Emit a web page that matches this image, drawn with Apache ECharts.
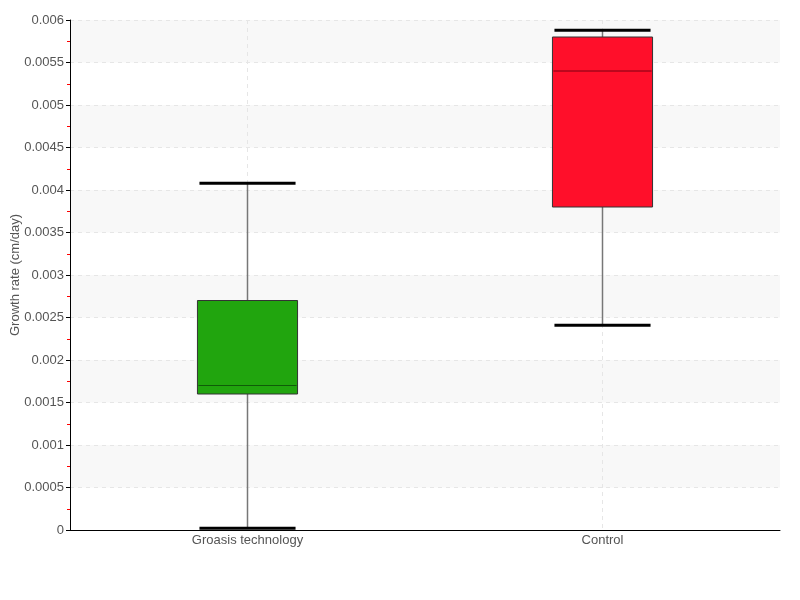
<!DOCTYPE html>
<html><head><meta charset="utf-8">
<script src="https://cdn.jsdelivr.net/npm/echarts@6/dist/echarts.min.js"></script>
<style>html,body{margin:0;padding:0;background:#fff}#c{width:800px;height:600px}</style>
</head><body><div id="c"></div>
<script>
const categories = ['Groasis technology', 'Control'];
const mins    = [0.00002, 0.00241];
const q1s     = [0.0016, 0.0038];
const medians = [0.0017, 0.0054];
const q3s     = [0.0027, 0.0058];
const maxs    = [0.00408, 0.00588];
const boxColors = ['#21a50e', '#ff0f2a'];
const medianColors = ['#0f5c08', '#7a0010'];
const yTicks = [0, 0.0005, 0.001, 0.0015, 0.002, 0.0025, 0.003, 0.0035, 0.004, 0.0045, 0.005, 0.0055, 0.006];

const data = categories.map((c, i) => [i, mins[i], q1s[i], medians[i], q3s[i], maxs[i]]);
const FONT = '"Liberation Sans", Arial, sans-serif';

const chart = echarts.init(document.getElementById('c'));
chart.setOption({
  animation: false,
  grid: { left: 70, right: 20, top: 20, bottom: 70, containLabel: false, outerBoundsMode: 'none' },
  xAxis: {
    type: 'category', data: categories, boundaryGap: true,
    axisLine: { lineStyle: { color: '#000', width: 1 } },
    axisTick: { show: false },
    axisLabel: { color: '#555', fontSize: 13, fontFamily: FONT, margin: 4 },
    splitLine: { show: true, alignWithLabel: true, lineStyle: { color: '#e6e6e6', type: [4, 4] } }
  },
  yAxis: {
    type: 'value', min: 0, max: 0.006, interval: 0.0005,
    name: 'Growth rate (cm/day)', nameLocation: 'middle', nameGap: 48, nameMoveOverlap: false,
    nameTextStyle: { color: '#555', fontSize: 13, fontFamily: FONT },
    axisLine: { show: true, lineStyle: { color: '#000', width: 1 } },
    axisTick: { show: true, length: 4, lineStyle: { color: '#000' } },
    minorTick: { show: true, splitNumber: 2, length: 3, lineStyle: { color: '#ff0000', width: 1 } },
    axisLabel: { color: '#555', fontSize: 13, fontFamily: FONT, margin: 6,
      formatter: v => { const t = yTicks.find(x => Math.abs(x - v) < 1e-9); return String(t !== undefined ? t : v); } },
    splitLine: { show: true, lineStyle: { color: '#e6e6e6', type: [4, 4] } },
    splitArea: { show: true, areaStyle: { color: ['rgba(255,255,255,0)', '#f8f8f8'] } }
  },
  series: [{
    type: 'custom',
    data: data,
    encode: { x: 0, y: [1, 2, 3, 4, 5] },
    renderItem: function (params, api) {
      const i = api.value(0);
      const xc = api.coord([i, 0])[0];
      const bw = api.size([1, 0])[0] * 0.282;
      const yMin = api.coord([i, api.value(1)])[1];
      const yQ1 = api.coord([i, api.value(2)])[1];
      const yMed = api.coord([i, api.value(3)])[1];
      const yQ3 = api.coord([i, api.value(4)])[1];
      const yMax = api.coord([i, api.value(5)])[1];
      const capW = bw * 0.96;
      return {
        type: 'group',
        children: [
          { type: 'line', shape: { x1: xc, y1: yMin, x2: xc, y2: yMax }, style: { stroke: '#777', lineWidth: 1.5 } },
          { type: 'rect', shape: { x: xc - bw / 2, y: yQ3, width: bw, height: yQ1 - yQ3 },
            style: { fill: boxColors[i], stroke: '#333', lineWidth: 1 } },
          { type: 'line', shape: { x1: xc - bw / 2 + 1, y1: yMed, x2: xc + bw / 2 - 1, y2: yMed }, style: { stroke: medianColors[i], lineWidth: 1 } },
          { type: 'line', shape: { x1: xc - capW / 2, y1: yMax, x2: xc + capW / 2, y2: yMax }, style: { stroke: '#000', lineWidth: 3 } },
          { type: 'line', shape: { x1: xc - capW / 2, y1: yMin, x2: xc + capW / 2, y2: yMin }, style: { stroke: '#000', lineWidth: 3 } }
        ]
      };
    }
  }]
});
</script></body></html>
